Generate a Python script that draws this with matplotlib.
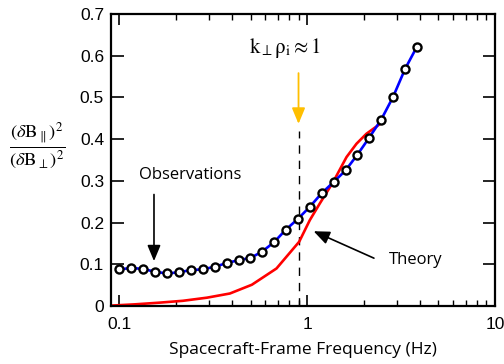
import numpy as np
import matplotlib
matplotlib.use("Agg")
import matplotlib.pyplot as plt
from matplotlib.ticker import FixedLocator, NullFormatter

# observations (spacecraft-frame frequency in Hz, power ratio)
obs_freq = [0.100, 0.116, 0.134, 0.155, 0.180, 0.208, 0.240, 0.278, 0.322,
            0.373, 0.432, 0.498, 0.574, 0.667, 0.770, 0.889, 1.030, 1.193,
            1.382, 1.601, 1.854, 2.137, 2.481, 2.867, 3.321, 3.846]
obs_ratio = [0.088, 0.091, 0.089, 0.082, 0.078, 0.081, 0.086, 0.088, 0.094,
             0.103, 0.110, 0.115, 0.130, 0.153, 0.183, 0.208, 0.237, 0.270,
             0.297, 0.325, 0.363, 0.403, 0.447, 0.501, 0.568, 0.622]

# theory curve
th_freq = [0.0903, 0.121, 0.163, 0.218, 0.293, 0.388, 0.508, 0.687, 0.907,
           1.034, 1.169, 1.375, 1.621, 1.832, 2.07, 2.436]
th_ratio = [0.001, 0.004, 0.008, 0.0125, 0.020, 0.030, 0.051, 0.090, 0.154,
            0.206, 0.246, 0.297, 0.357, 0.389, 0.413, 0.436]

y_ticks = [0, 0.1, 0.2, 0.3, 0.4, 0.5, 0.6, 0.7]
y_labels = ["0", "0.1", "0.2", "0.3", "0.4", "0.5", "0.6", "0.7"]
x_ticks = [0.1, 1, 10]
x_labels = ["0.1", "1", "10"]

k_rho_freq = 0.9

plt.rcParams["mathtext.fontset"] = "stix"

fig = plt.figure(figsize=(5.04, 3.64), dpi=100)
ax = fig.add_axes([0.2202, 0.1593, 0.7618, 0.8022])

ax.plot(th_freq, th_ratio, color="#ff0000", lw=1.9, zorder=2)
ax.plot(obs_freq, obs_ratio, color="#0000ff", lw=1.9, zorder=3,
        marker="o", ms=5.8, mfc="white", mec="black", mew=1.7)

ax.set_xscale("log")
ax.set_xlim(0.0903, 10)
ax.set_ylim(0, 0.7)

# dashed marker at k_perp rho_i = 1
ax.plot([k_rho_freq, k_rho_freq], [0, 0.42], color="black", lw=1, ls=(0, (6, 5)), zorder=1)
ax.annotate("", xy=(k_rho_freq, 0.43), xytext=(k_rho_freq, 0.565),
            arrowprops=dict(arrowstyle="-|>,head_length=0.6,head_width=0.25",
                            color="#ffbf00", lw=1.3, mutation_scale=16))
ax.text(0.76, 0.618, r"$\mathrm{k}_{\perp}\mathrm{\rho}_{\mathrm{i}} \approx 1$", fontsize=15,
        ha="center", va="center")

ax.annotate("", xy=(0.153, 0.101), xytext=(0.153, 0.274),
            arrowprops=dict(arrowstyle="-|>,head_length=0.6,head_width=0.25",
                            color="black", lw=1.2, mutation_scale=16))
ax.text(0.238, 0.314, "Observations", fontsize=12, family="Open Sans",
        ha="center", va="center")

ax.annotate("", xy=(1.05, 0.182), xytext=(2.34, 0.112),
            arrowprops=dict(arrowstyle="-|>,head_length=0.6,head_width=0.25",
                            color="black", lw=1.2, mutation_scale=16))
ax.text(3.78, 0.11, "Theory", fontsize=12, family="Open Sans",
        ha="center", va="center")

ax.set_yticks(y_ticks)
ax.set_yticklabels(y_labels, family="Liberation Sans", fontsize=12.5)
ax.xaxis.set_major_locator(FixedLocator(x_ticks))
ax.set_xticklabels(x_labels, family="Liberation Sans", fontsize=12.5)
minor = [m * d for d in (0.1, 1) for m in range(2, 10)]
ax.xaxis.set_minor_locator(FixedLocator(minor))
ax.xaxis.set_minor_formatter(NullFormatter())

ax.tick_params(axis="both", which="major", direction="in", top=True, right=True,
               width=1.2, color="black")
ax.tick_params(axis="y", which="major", length=9, pad=5)
ax.tick_params(axis="x", which="major", length=8, pad=8)
ax.tick_params(axis="x", which="minor", direction="in", top=True, length=4, width=1)

for s in ax.spines.values():
    s.set_linewidth(1.6)

ax.set_xlabel("Spacecraft-Frame Frequency (Hz)", family="Open Sans", fontsize=12.5, labelpad=7)
fig.text(0.074, 0.597,
         r"$\frac{(\delta\mathrm{B}_{\parallel})^2}{(\delta\mathrm{B}_{\perp})^2}$",
         fontsize=19, ha="center", va="center")

fig.savefig("out.png", dpi=100)
